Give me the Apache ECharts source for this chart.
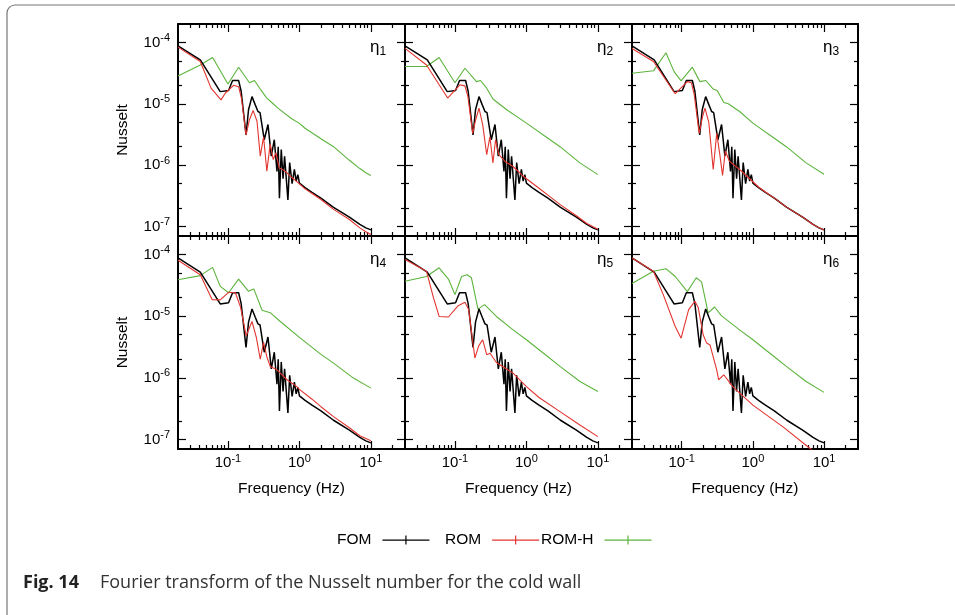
<!DOCTYPE html>
<html><head><meta charset="utf-8">
<script src="https://cdn.jsdelivr.net/npm/echarts@6/dist/echarts.min.js"></script>
<style>html,body{margin:0;padding:0;background:#fff}#c{width:955px;height:615px}</style>
</head><body><div id="c"></div>
<script>
// ---------- data (frequency in Hz, Nusselt spectrum amplitude) ----------
const FOM = [[0.02,8.8e-5],[0.041,5.2e-5],[0.078,1.58e-5],[0.102,1.65e-5],[0.116,2.4e-5],[0.141,2.4e-5],[0.153,1.6e-5],[0.179,3.1e-6],[0.194,8e-6],[0.217,1.31e-5],[0.241,9.6e-6],[0.263,7.5e-6],[0.281,7.2e-6],[0.322,2.6e-6],[0.363,4.6e-6],[0.404,1.4e-6],[0.445,2.6e-6],[0.485,7.9e-7],[0.505,2.0e-6],[0.525,2.9e-7],[0.557,1.8e-6],[0.59,6e-7],[0.62,1.4e-6],[0.69,2.7e-7],[0.73,1.1e-6],[0.79,5e-7],[0.85,8.5e-7],[0.9,5.5e-7],[0.95,7e-7],[1.0,5.1e-7],[1.2,4.3e-7],[1.5,3.6e-7],[2,2.9e-7],[3,2.05e-7],[5,1.42e-7],[7,1.08e-7],[8.5,9.5e-8],[10,8.8e-8]];

const ROM_1 = [[0.02,8.4e-5],[0.041,4.9e-5],[0.058,1.8e-5],[0.08,1.16e-5],[0.092,1.5e-5],[0.12,2.0e-5],[0.141,1.9e-5],[0.155,1.2e-5],[0.179,3.1e-6],[0.2,5.5e-6],[0.225,7.8e-6],[0.255,5.2e-6],[0.283,1.4e-6],[0.315,2.9e-6],[0.35,8e-7],[0.39,2.2e-6],[0.43,1.23e-6],[0.47,1.6e-6],[0.52,9e-7],[0.57,8.6e-7],[0.67,7.5e-7],[0.77,6.4e-7],[0.92,5.4e-7],[1.2,4.1e-7],[1.5,3.45e-7],[2,2.75e-7],[3,1.9e-7],[5,1.3e-7],[7,9.5e-8],[8.5,8.2e-8],[10,7.4e-8]];
const ROM_2 = [[0.02,8.0e-5],[0.04,4.3e-5],[0.079,1.24e-5],[0.117,2.04e-5],[0.138,1.96e-5],[0.152,1.3e-5],[0.177,3.3e-6],[0.195,5.5e-6],[0.217,8.5e-6],[0.245,4.5e-6],[0.278,1.48e-6],[0.308,2.9e-6],[0.34,1.09e-6],[0.37,2.6e-6],[0.41,1.5e-6],[0.5,1.15e-6],[0.65,9.5e-7],[0.9,6.6e-7],[1.0,6.0e-7],[1.5,4.2e-7],[2,3.25e-7],[3,2.25e-7],[5,1.5e-7],[7,1.12e-7],[10,9.0e-8]];
const ROM_3 = [[0.02,8.0e-5],[0.04,4.9e-5],[0.081,1.46e-5],[0.12,2.3e-5],[0.137,2.2e-5],[0.15,1.4e-5],[0.176,3.3e-6],[0.195,6e-6],[0.212,8.5e-6],[0.24,5e-6],[0.277,8.5e-7],[0.31,3.3e-6],[0.34,1.6e-6],[0.375,6.8e-7],[0.41,1.7e-6],[0.47,1.15e-6],[0.65,8.5e-7],[0.9,6.0e-7],[1.2,4.4e-7],[1.5,3.65e-7],[2,2.9e-7],[3,2.05e-7],[5,1.42e-7],[7,1.08e-7],[8.5,9.5e-8],[10,8.8e-8]];
const ROM_4 = [[0.02,8.1e-5],[0.041,4.7e-5],[0.06,1.86e-5],[0.078,1.84e-5],[0.102,2.44e-5],[0.127,2.4e-5],[0.15,1.4e-5],[0.18,4.8e-6],[0.217,8.2e-6],[0.25,4.5e-6],[0.283,2.0e-6],[0.315,3.75e-6],[0.35,2.2e-6],[0.39,1.53e-6],[0.485,1.35e-6],[0.67,9.3e-7],[0.92,7.2e-7],[1.0,6.5e-7],[1.5,4.5e-7],[2,3.4e-7],[3,2.35e-7],[5,1.55e-7],[7,1.15e-7],[10,9.5e-8]];
const ROM_5 = [[0.02,8.3e-5],[0.04,5.35e-5],[0.05,2.0e-5],[0.06,9.9e-6],[0.081,9.7e-6],[0.111,1.48e-5],[0.138,1.68e-5],[0.155,1.3e-5],[0.19,2.1e-6],[0.215,3.3e-6],[0.244,4.15e-6],[0.278,2.37e-6],[0.31,2.5e-6],[0.38,1.77e-6],[0.65,1.19e-6],[1.0,7.2e-7],[1.5,4.8e-7],[2.95,2.83e-7],[5.6,1.72e-7],[10,1.11e-7]];
const ROM_6 = [[0.02,8.8e-5],[0.04,5.35e-5],[0.055,2.24e-5],[0.081,6.8e-6],[0.098,4.4e-6],[0.125,1.28e-5],[0.153,1.74e-5],[0.17,1.4e-5],[0.2,5e-6],[0.224,3.66e-6],[0.25,3.4e-6],[0.31,1.35e-6],[0.33,9.3e-7],[0.39,1.12e-6],[0.52,7.2e-7],[1.0,3.6e-7],[2.65,1.6e-7],[6.3,7.2e-8],[10,4.8e-8]];

const ROMH_1 = [[0.02,2.85e-5],[0.041,4.3e-5],[0.061,5.7e-5],[0.1,2.1e-5],[0.141,3.95e-5],[0.2,2.2e-5],[0.235,2.4e-5],[0.283,1.74e-5],[0.35,1.24e-5],[0.41,1.05e-5],[0.5,8.5e-6],[0.78,5.7e-6],[1.0,4.8e-6],[1.2,4.0e-6],[2,2.7e-6],[3,2.0e-6],[5,1.2e-6],[7,8.8e-7],[8.5,7.5e-7],[10,6.8e-7]];
const ROMH_2 = [[0.02,4.05e-5],[0.04,4.05e-5],[0.06,5.7e-5],[0.1,2.2e-5],[0.138,3.8e-5],[0.2,2.3e-5],[0.228,2.4e-5],[0.278,1.8e-5],[0.34,1.2e-5],[0.53,8e-6],[1.0,4.85e-6],[2,2.75e-6],[2.95,2.0e-6],[5.6,1.09e-6],[10,7.0e-7]];
const ROMH_3 = [[0.02,3.15e-5],[0.04,3.45e-5],[0.06,6.8e-5],[0.078,3.35e-5],[0.098,2.37e-5],[0.141,3.95e-5],[0.18,2.3e-5],[0.218,2.4e-5],[0.277,1.74e-5],[0.315,1.65e-5],[0.39,1.05e-5],[0.45,1.0e-5],[0.65,7.5e-6],[1.0,4.85e-6],[2,2.75e-6],[2.95,2.0e-6],[5.6,1.09e-6],[10,7.1e-7]];
const ROMH_4 = [[0.02,3.9e-5],[0.041,4.55e-5],[0.061,6.2e-5],[0.078,3.05e-5],[0.102,2.4e-5],[0.141,4.0e-5],[0.194,2.53e-5],[0.23,2.77e-5],[0.3,1.25e-5],[0.39,1.14e-5],[0.54,8.2e-6],[1.03,4.4e-6],[2,2.4e-6],[3.0,1.73e-6],[5.7,9.9e-7],[10,6.8e-7]];
const ROMH_5 = [[0.02,3.7e-5],[0.04,4.4e-5],[0.06,6.1e-5],[0.081,4.0e-5],[0.1,2.24e-5],[0.124,4.4e-5],[0.148,4.7e-5],[0.17,4.2e-5],[0.21,1.3e-5],[0.26,1.54e-5],[0.38,9.9e-6],[0.65,6.0e-6],[1.0,4.15e-6],[2,2.2e-6],[2.95,1.53e-6],[5.6,8.7e-7],[10,6.0e-7]];
const ROMH_6 = [[0.02,3.4e-5],[0.04,5.35e-5],[0.06,5.9e-5],[0.081,4.4e-5],[0.12,2.5e-5],[0.16,4.2e-5],[0.19,3.6e-5],[0.235,1.13e-5],[0.29,1.41e-5],[0.36,1.02e-5],[0.65,6.0e-6],[1.0,4.15e-6],[2,2.2e-6],[2.95,1.53e-6],[5.6,8.7e-7],[10,5.8e-7]];

const ROM_SETS = [ROM_1, ROM_2, ROM_3, ROM_4, ROM_5, ROM_6];
const ROMH_SETS = [ROMH_1, ROMH_2, ROMH_3, ROMH_4, ROMH_5, ROMH_6];
const PANEL_LABELS = ['1', '2', '3', '4', '5', '6'];

// axis ranges and ticks
const X_RANGE = [0.02, 30];
const Y_RANGE = [7e-8, 2e-4];
const X_MAJOR = [0.1, 1, 10];
const Y_MAJOR = [1e-7, 1e-6, 1e-5, 1e-4];
const X_MINOR_MULT = [2, 3, 4, 5, 6, 7, 8, 9];
const Y_MINOR_MULT = [2, 5];
const X_TITLE = 'Frequency (Hz)';
const Y_TITLE = 'Nusselt';
const CAPTION_BOLD = 'Fig. 14';
const CAPTION_TEXT = 'Fourier transform of the Nusselt number for the cold wall';

// ---------- build ----------
const lg = Math.log10;
const FONT = '"Liberation Sans", Arial, Helvetica, sans-serif';
const lx0 = lg(X_RANGE[0]), lx1 = lg(X_RANGE[1]), ly0 = lg(Y_RANGE[0]), ly1 = lg(Y_RANGE[1]);
const xMaj = X_MAJOR.map(lg), yMaj = Y_MAJOR.map(lg);
const xMin = [], yMin = [];
for (let e = -2; e <= 1; e++) for (const k of X_MINOR_MULT) { const v = lg(k * Math.pow(10, e)); if (v > lx0 + 1e-6 && v < lx1 - 1e-6) xMin.push(v); }
for (let e = -8; e <= -4; e++) for (const k of Y_MINOR_MULT) { const v = lg(k * Math.pow(10, e)); if (v > ly0 + 1e-6 && v < ly1 - 1e-6) yMin.push(v); }

const rich = {
  m: { fontSize: 15, fontFamily: FONT, color: '#000', lineHeight: 20 },
  s: { fontSize: 11, fontFamily: FONT, color: '#000', lineHeight: 9, verticalAlign: 'top' }
};
const fmt = v => '{m|10}{s|' + Math.round(v) + '}';
const toXY = d => d.map(p => [lg(p[0]), lg(p[1])]);

const colL = [178, 405, 632], colW = [227, 227, 226], rowT = [24, 236], rowH = [212, 213];
const AX = { color: '#000', width: 2 };
const TK = { color: '#000', width: 1.2 };
const nameStyle = { fontSize: 15.5, fontFamily: FONT, color: '#000' };

const grids = [], xAxes = [], yAxes = [], series = [], titles = [];
for (let g = 0; g < 6; g++) {
  const c = g % 3, r = Math.floor(g / 3);
  grids.push({ left: colL[c], top: rowT[r], width: colW[c], height: rowH[r] });
  const bx = { type: 'value', gridIndex: g, min: lx0, max: lx1, splitLine: { show: false }, axisLabel: { show: false }, axisLine: { show: false, onZero: false } };
  const by = { type: 'value', gridIndex: g, min: ly0, max: ly1, splitLine: { show: false }, axisLabel: { show: false }, axisLine: { show: false, onZero: false } };
  xAxes.push(Object.assign({}, bx, {
    position: 'bottom',
    axisLine: { show: true, onZero: false, lineStyle: AX },
    axisTick: { show: true, inside: true, length: 8, customValues: xMaj, lineStyle: TK },
    axisLabel: { show: r === 1, customValues: xMaj, formatter: fmt, margin: 4, rich: rich },
    name: r === 1 ? X_TITLE : '', nameLocation: 'middle', nameGap: 32, nameTextStyle: nameStyle
  }));
  xAxes.push(Object.assign({}, bx, { position: 'bottom', axisTick: { show: true, inside: true, length: 4, customValues: xMin, lineStyle: TK } }));
  xAxes.push(Object.assign({}, bx, { position: 'top', axisLine: { show: true, onZero: false, lineStyle: AX }, axisTick: { show: true, inside: true, length: 8, customValues: xMaj, lineStyle: TK } }));
  xAxes.push(Object.assign({}, bx, { position: 'top', axisTick: { show: true, inside: true, length: 4, customValues: xMin, lineStyle: TK } }));

  yAxes.push(Object.assign({}, by, {
    position: 'left',
    axisLine: { show: true, onZero: false, lineStyle: AX },
    axisTick: { show: true, inside: true, length: 8, customValues: yMaj, lineStyle: TK },
    axisLabel: { show: c === 0, customValues: yMaj, formatter: fmt, margin: 8, rich: rich },
    name: c === 0 ? Y_TITLE : '', nameLocation: 'middle', nameGap: 47, nameRotate: 90, nameTextStyle: nameStyle
  }));
  yAxes.push(Object.assign({}, by, { position: 'left', axisTick: { show: true, inside: true, length: 4, customValues: yMin, lineStyle: TK } }));
  yAxes.push(Object.assign({}, by, { position: 'right', axisLine: { show: true, onZero: false, lineStyle: AX }, axisTick: { show: true, inside: true, length: 8, customValues: yMaj, lineStyle: TK } }));
  yAxes.push(Object.assign({}, by, { position: 'right', axisTick: { show: true, inside: true, length: 4, customValues: yMin, lineStyle: TK } }));

  const common = { type: 'line', xAxisIndex: 4 * g, yAxisIndex: 4 * g, showSymbol: false, symbol: 'none', animation: false, clip: true };
  series.push(Object.assign({}, common, { name: 'ROM-H', color: '#5cb43c', data: toXY(ROMH_SETS[g]), lineStyle: { width: 1.1, color: '#5cb43c' }, z: 2 }));
  series.push(Object.assign({}, common, { name: 'FOM', color: '#000', data: toXY(FOM), lineStyle: { width: 1.5, color: '#000' }, z: 3 }));
  series.push(Object.assign({}, common, { name: 'ROM', color: '#e3352f', data: toXY(ROM_SETS[g]), lineStyle: { width: 1.1, color: '#e3352f' }, z: 4 }));

  titles.push({
    text: '{e|η}{s|' + PANEL_LABELS[g] + '}', left: colL[c] + colW[c] - 35, top: rowT[r] + 12, padding: 0,
    textStyle: { fontWeight: 'normal', rich: {
      e: { fontSize: 17, fontWeight: 'normal', fontFamily: FONT, color: '#000', lineHeight: 22 },
      s: { fontSize: 12, fontWeight: 'normal', fontFamily: FONT, color: '#000', lineHeight: 8, verticalAlign: 'bottom' } } }
  });
}

const ICON = 'path://M0,4H47V5.2H0Z M22.9,0H24.1V9H22.9Z';
const legendBase = { orient: 'horizontal', align: 'right', itemWidth: 47, itemHeight: 9, padding: 0, icon: ICON, itemStyle: { borderWidth: 0 }, textStyle: { fontSize: 15.5, fontFamily: FONT, color: '#000', padding: [0, 6, 0, 0] } };
const legends = [
  Object.assign({}, legendBase, { data: ['FOM'], left: 337, top: 532 }),
  Object.assign({}, legendBase, { data: ['ROM'], left: 445, top: 532 }),
  Object.assign({}, legendBase, { data: ['ROM-H'], left: 541, top: 532 })
];

const chart = echarts.init(document.getElementById('c'), null, { renderer: 'canvas' });
chart.setOption({
  animation: false,
  backgroundColor: '#fff',
  title: titles,
  legend: legends,
  grid: grids,
  xAxis: xAxes,
  yAxis: yAxes,
  series: series,
  graphic: [
    { type: 'rect', silent: true, shape: { x: 7, y: 5, width: 1000, height: 620, r: [8, 0, 0, 8] }, style: { fill: 'none', stroke: '#777', lineWidth: 1.2 } },
    { type: 'text', x: 23, y: 583, silent: true, style: { text: CAPTION_BOLD, fontSize: 18, fontWeight: 'bold', fontFamily: '"Open Sans", "Noto Sans", sans-serif', fill: '#222', verticalAlign: 'middle' } },
    { type: 'text', x: 100, y: 583, silent: true, style: { text: CAPTION_TEXT, fontSize: 18, fontFamily: '"Open Sans", "Noto Sans", sans-serif', fill: '#333', verticalAlign: 'middle' } }
  ]
});
</script>
</body></html>
